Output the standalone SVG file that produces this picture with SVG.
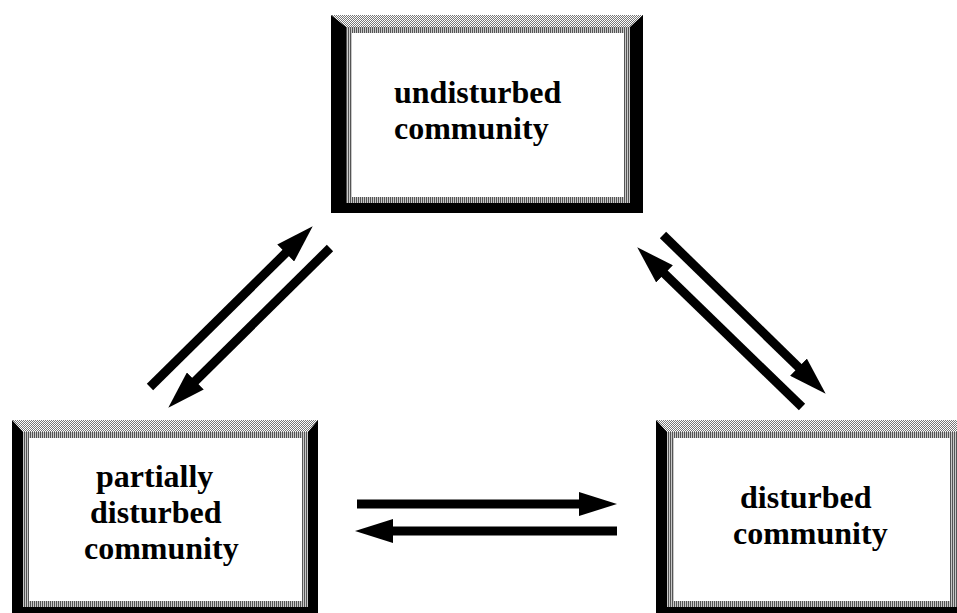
<svg xmlns="http://www.w3.org/2000/svg" width="957" height="613" viewBox="0 0 957 613">
<style>
.lbl{font-family:"Liberation Serif","Times New Roman",serif;font-weight:bold;font-size:32px;fill:#000}
.outer{fill:#000}
.bevel{fill:url(#checker)}
.band{fill:url(#hatch)}
.inner{fill:#fff}
.shaft{stroke:#000;stroke-width:9;fill:none;marker-end:url(#head)}
</style>
<defs>
<pattern id="checker" width="2" height="2" patternUnits="userSpaceOnUse">
<rect width="2" height="2" fill="#fff"/>
<rect x="1" y="0" width="1" height="1" fill="#777"/>
<rect x="0" y="1" width="1" height="1" fill="#777"/>
</pattern>
<pattern id="hatch" width="2" height="3" patternUnits="userSpaceOnUse">
<rect width="2" height="3" fill="#c8c8c8"/>
<rect width="1" height="3" fill="#555"/>
</pattern>
<marker id="head" markerUnits="userSpaceOnUse" markerWidth="38" markerHeight="24" viewBox="0 0 38 24" refX="1" refY="12" orient="auto">
<path d="M0,0 L38,12 L0,24 Z" fill="#000"/>
</marker>
</defs>
<rect width="957" height="613" fill="#fff"/>

<g id="undisturbed">
<rect class="outer" x="331" y="15" width="312" height="198"/>
<polygon class="bevel" points="331,15 643,15 630,27 346,27"/>
<rect class="band" x="346" y="27" width="284" height="176"/>
<rect class="inner" x="352" y="33" width="272" height="164"/>
<text class="lbl"><tspan x="394" y="103">undisturbed</tspan><tspan x="394" y="139">community</tspan></text>
</g>

<g id="partially">
<rect class="outer" x="12" y="420" width="306" height="200"/>
<polygon class="bevel" points="12,420 318,420 308,432 23,432"/>
<rect class="band" x="23" y="432" width="285" height="175"/>
<rect class="inner" x="29" y="438" width="273" height="163"/>
<text class="lbl"><tspan x="96" y="487">partially</tspan><tspan x="90" y="523">disturbed</tspan><tspan x="84" y="559">community</tspan></text>
</g>

<g id="disturbed">
<rect class="outer" x="656" y="420" width="320" height="200"/>
<polygon class="bevel" points="656,420 976,420 964,432 667,432"/>
<rect class="band" x="667" y="432" width="297" height="175"/>
<rect class="inner" x="674" y="438" width="276" height="163"/>
<text class="lbl"><tspan x="740" y="508">disturbed</tspan><tspan x="733" y="544">community</tspan></text>
</g>

<g id="connectors">
<line class="shaft" x1="150" y1="387" x2="286.4" y2="252.3"/>
<line class="shaft" x1="330" y1="248" x2="194.6" y2="381.7"/>
<line class="shaft" x1="663" y1="235" x2="799.2" y2="367.9"/>
<line class="shaft" x1="802" y1="407" x2="663.8" y2="273.1"/>
<line class="shaft" x1="357" y1="504" x2="580" y2="504"/>
<line class="shaft" x1="617" y1="531" x2="392" y2="531"/>
</g>
</svg>
